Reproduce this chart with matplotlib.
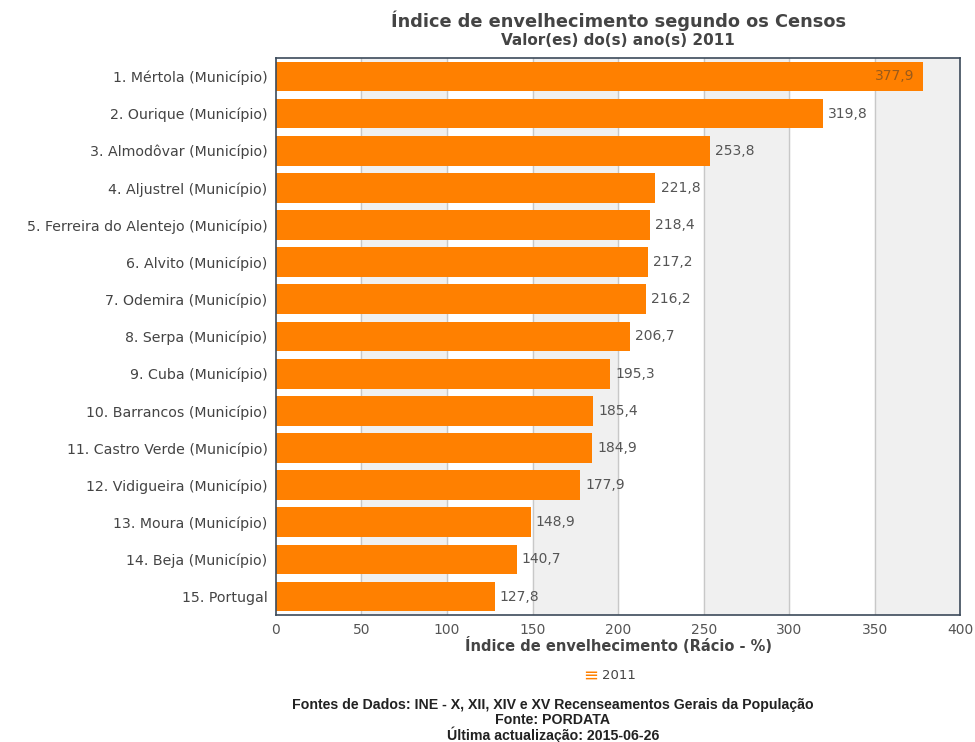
import matplotlib.pyplot as plt
import numpy as np

plt.rcParams['font.family'] = ['DejaVu Sans']

# data
labels = ['1. Mértola (Município)', '2. Ourique (Município)', '3. Almodôvar (Município)',
          '4. Aljustrel (Município)', '5. Ferreira do Alentejo (Município)', '6. Alvito (Município)',
          '7. Odemira (Município)', '8. Serpa (Município)', '9. Cuba (Município)',
          '10. Barrancos (Município)', '11. Castro Verde (Município)', '12. Vidigueira (Município)',
          '13. Moura (Município)', '14. Beja (Município)', '15. Portugal']
values = [377.9, 319.8, 253.8, 221.8, 218.4, 217.2, 216.2, 206.7, 195.3,
          185.4, 184.9, 177.9, 148.9, 140.7, 127.8]
xticks = [0, 50, 100, 150, 200, 250, 300, 350, 400]

fig = plt.figure(figsize=(9.75, 7.42), dpi=100)
ax = fig.add_axes([0.283, 0.171, 0.702, 0.751])

y = np.arange(len(labels))
ax.set_xlim(0, 400)
ax.set_ylim(len(labels) - 0.5, -0.5)

# alternating bands and grid lines
for i in range(len(xticks) - 1):
    if i % 2 == 1:
        ax.axvspan(xticks[i], xticks[i + 1], color='#f0f0f0', zorder=0)
for t in xticks[1:-1]:
    ax.axvline(t, color='#c8c8c8', lw=1, zorder=1)

ax.barh(y, values, height=0.8, color='#ff8000', zorder=2)

for i, v in enumerate(values):
    txt = f'{v:.1f}'.replace('.', ',')
    if v > 350:
        ax.text(v - 5, i, txt, ha='right', va='center', fontsize=10, color='#9a5a1a', zorder=3)
    else:
        ax.text(v + 3, i, txt, ha='left', va='center', fontsize=10, color='#555555', zorder=3)

ax.set_yticks(y)
ax.set_yticklabels(labels, fontsize=10.2, color='#444444')
ax.set_xticks(xticks)
ax.set_xticklabels([str(t) for t in xticks], fontsize=10, color='#555555')
ax.tick_params(axis='both', length=0, pad=6)

for s in ax.spines.values():
    s.set_color('#3c4a5a')
    s.set_linewidth(1.2)

ax.set_xlabel('Índice de envelhecimento (Rácio - %)', fontsize=10.5, fontweight='bold',
              color='#444444', labelpad=0)

fig.text(0.634, 0.972, 'Índice de envelhecimento segundo os Censos', ha='center', va='center',
         fontsize=12.8, fontweight='bold', color='#444444')
fig.text(0.634, 0.945, 'Valor(es) do(s) ano(s) 2011', ha='center', va='center',
         fontsize=11, fontweight='bold', color='#444444')

# legend
fig.text(0.606, 0.089, '\u2261', ha='center', va='center', fontsize=13, color='#ff8000')
fig.text(0.617, 0.089, '2011', ha='left', va='center', fontsize=9.5, color='#444444')

foot = ['Fontes de Dados: INE - X, XII, XIV e XV Recenseamentos Gerais da População',
        'Fonte: PORDATA',
        'Última actualização: 2015-06-26']
for k, line in enumerate(foot):
    fig.text(0.567, 0.050 - k * 0.0200, line, ha='center', va='center', fontsize=10.2,
             fontweight='bold', color='#222222', family='Liberation Sans')

fig.savefig('out.png', dpi=100)
